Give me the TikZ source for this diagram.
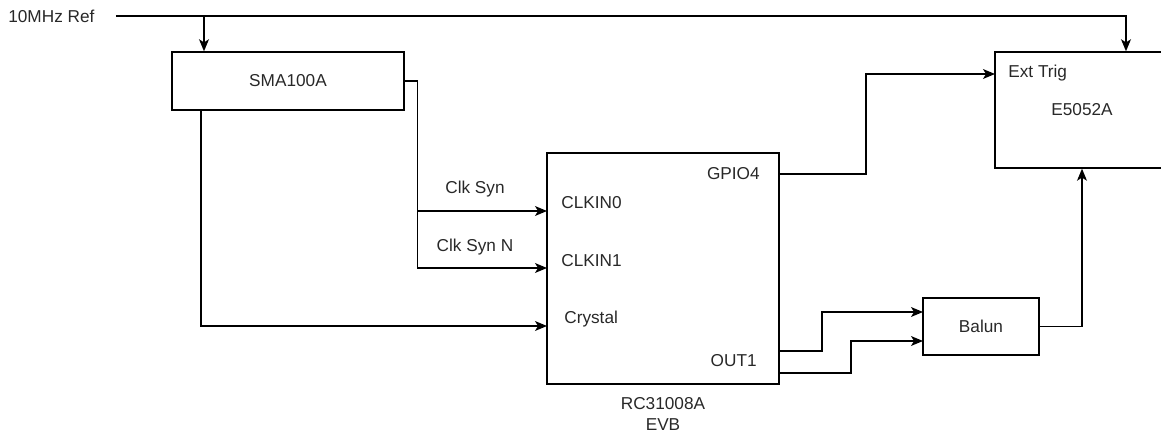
\documentclass[tikz,border=0pt]{standalone}
\usepackage{fontspec}
\setmainfont{Liberation Sans}
\usepackage{xcolor}
\usetikzlibrary{arrows.meta, positioning, calc}
\definecolor{wire}{RGB}{0, 0, 0}
\definecolor{labeltext}{RGB}{40, 40, 40}

\begin{document}
\begin{tikzpicture}[
    x=0.02cm, y=-0.02cm,
    block/.style={rectangle, draw=wire, line width=0.8pt, inner sep=0pt, align=center, text=labeltext, font=\fontsize{9.8}{11.5}\selectfont},
    pin/.style={inner sep=0pt, text=labeltext, font=\fontsize{9.8}{11.5}\selectfont},
    arrow/.style={-{Stealth[length=6.8pt, width=5.6pt, inset=1.7pt]}, line width=0.8pt, color=wire}
]
    \clip (0,0) rectangle (1161,432);
    % Instruments
    \node[pin, anchor=west] (ref) at (8,16) {10MHz Ref};
    \node[block, minimum width=4.64cm, minimum height=1.16cm] (sma) at (288,81) {SMA100A};
    \node[block, minimum width=4.64cm, minimum height=4.62cm] (evb) at (663,268.5) {};
    \node[pin, align=center] (evbname) at (663,414) {RC31008A\\EVB};
    \node[block, minimum width=3.48cm, minimum height=2.32cm] (vna) at (1082,110) {E5052A};
    \node[block, minimum width=2.32cm, minimum height=1.14cm] (balun) at (981,326.5) {Balun};

    % Port labels
    \node[pin, anchor=west] (clkinzero) at (561,203) {CLKIN0};
    \node[pin, anchor=west] (clkinone) at (561,261) {CLKIN1};
    \node[pin, anchor=west] (crystal) at (564,319) {Crystal};
    \node[pin, anchor=east] (gpiofour) at (760,174) {GPIO4};
    \node[pin, anchor=east] (outone) at (757,361) {OUT1};
    \node[pin, anchor=west] (exttrig) at (1008,73) {Ext Trig};
    \node[pin] (clksyn) at (475,189) {Clk Syn};
    \node[pin] (clksynn) at (475,247) {Clk Syn N};

    % Pins
    \coordinate (reftap) at (204,16);
    \coordinate (clk0) at (547,211);
    \coordinate (clk1) at (547,268);
    \coordinate (xtal) at (547,326);
    \coordinate (gpio) at (779,174);
    \coordinate (outp) at (779,351);
    \coordinate (outn) at (779,373);
    \coordinate (trig) at (995,74);
    \coordinate (balunp) at (923,312);
    \coordinate (balunn) at (923,341);

    % Arrows
    \draw[arrow] ([xshift=0.42cm]ref.east) -| ([xshift=0.88cm]vna.north);
    \draw[arrow] (reftap) -- (reftap |- sma.north);
    \draw[arrow] (sma.east) -- ++(13,0) |- (clk0);
    \draw[arrow] (sma.east) -- ++(13,0) |- (clk1);
    \draw[arrow] ([xshift=-1.74cm]sma.south) |- (xtal);
    \draw[arrow] (gpio) -- ++(87,0) |- (trig);
    \draw[arrow] (outp) -- ++(43,0) |- (balunp);
    \draw[arrow] (outn) -- ++(72,0) |- (balunn);
    \draw[arrow] (balun.east) -| (vna.south);
\end{tikzpicture}
\end{document}
